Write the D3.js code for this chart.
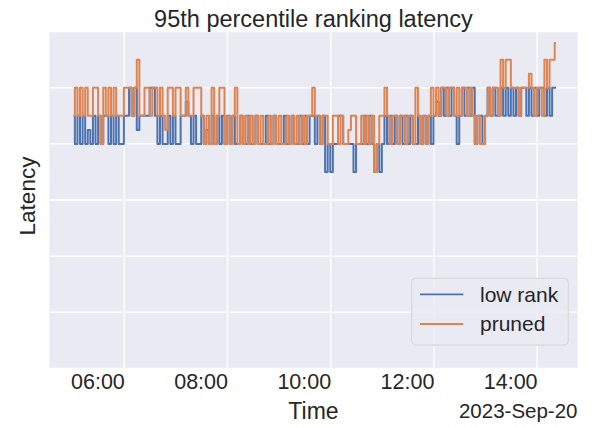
<!DOCTYPE html>
<html>
<head>
<meta charset="utf-8">
<script src="https://cdn.jsdelivr.net/npm/d3@7"></script>
<style>
  body { margin: 0; background: #ffffff; }
  svg text { font-family: "Liberation Sans", Arial, sans-serif; fill: #262626; }
</style>
</head>
<body>
<div id="chart"></div>
<script>
// sampling: one point every 3 minutes starting 05:01 on 2023-09-20
const startTime = new Date(2023, 8, 20, 5, 1);
const stepMinutes = 3;

const lowRank = [
  4.5, 4, 4.5, 4, 4.5, 4, 4.25, 4, 4.5, 4,
  4.5, 4, 4.5, 4.5, 4, 4.5, 4, 4.5, 4, 4,
  4.5, 4.5, 5, 4.5, 5, 4.25, 4.5, 4.5, 4.5, 4.5,
  5, 5, 4.5, 4, 4.5, 4, 4, 4.5, 4, 4.5,
  4, 4, 4.5, 4.5, 4.75, 4.5, 4, 4.5, 4, 4,
  4.5, 4, 4.25, 4, 4.5, 4, 4.5, 4, 4.5, 4,
  4.5, 4, 4.5, 4, 4, 4.5, 4, 4, 4.5, 4,
  4, 4.5, 4, 4, 4, 4.5, 4, 4, 4.5, 4,
  4, 4, 4.5, 4, 4, 4.5, 4, 4, 4.5, 4,
  4.5, 4, 4.5, 4.5, 4, 4.5, 4, 4.5, 3.5, 4,
  3.5, 4, 4, 4.5, 4.5, 4, 4, 4, 4, 3.5,
  4, 4, 4, 4.5, 4, 4.5, 4, 3.5, 4, 3.5,
  4, 4.5, 4, 4.5, 4, 4.5, 4, 4.5, 4, 4.5,
  4, 4.5, 4, 4, 4.5, 4, 4.5, 4, 4.5, 4,
  4.5, 4.75, 4.5, 5, 4.5, 5, 4.5, 5, 4.5, 4,
  4.5, 5, 4.5, 5, 4.5, 5, 4, 4.5, 4.5, 4,
  4.5, 5, 4.5, 5, 4.5, 4.5, 5, 4.5, 5, 4.5,
  5, 4.5, 5, 4.5, 5, 5, 4.5, 5, 4.5, 5,
  4.5, 5, 5, 4.5, 5, 4.5, 5, 5
];

const pruned = [
  4.5, 5, 4.5, 5, 4.5, 5, 4.5, 4.5, 5, 5,
  4.5, 4, 5, 4.5, 5, 4.5, 5, 4.5, 4.5, 4.5,
  5, 5, 5, 4.5, 5, 5.5, 4.5, 4.5, 5, 5,
  4.5, 5, 5, 4.5, 5, 4.5, 4.25, 5, 5, 4.5,
  5, 5, 4.5, 4.5, 5, 4.5, 4.5, 5, 5, 5,
  4.5, 4, 4.5, 4, 5, 4, 4.5, 5, 5, 4,
  4.5, 4, 4.5, 5, 4, 4.5, 4, 4.5, 4, 4.5,
  4, 4.5, 4, 4.5, 4, 4, 4.5, 4, 4.5, 4,
  4.5, 4, 4, 4.5, 4, 4.5, 4, 4.5, 4, 4.5,
  4, 4.5, 4.5, 5, 4.5, 4.5, 4, 4.5, 4.5, 4,
  4, 4.5, 4.5, 4, 4.5, 4, 4, 4.25, 4.5, 4.5,
  4, 4, 4.5, 4, 4.5, 4, 4.5, 3.5, 4, 4.5,
  4.5, 5, 4.5, 4, 4.5, 4.5, 4, 4.5, 4.5, 4,
  4.5, 4.5, 4, 5, 4.5, 4, 4.5, 4, 4.5, 5,
  4.5, 5, 4.5, 5, 5, 4.5, 5, 5, 4.5, 5,
  4.5, 5, 5, 4.5, 5, 4.5, 4, 4.5, 4, 4,
  4.5, 5, 4.5, 5, 5, 4.5, 5.5, 5, 5.5, 5.5,
  5, 5, 5, 4.5, 5, 5, 5, 5.25, 5, 4.5,
  5, 5, 4.5, 5.5, 5, 5.5, 5.5, 5.8
];

const seriesNames = ['low rank', 'pruned'];
const seriesColors = ['#4C72B0', '#DD8452'];
const xTickHours = [6, 8, 10, 12, 14];
const yTicks = [0, 1, 2, 3, 4, 5, 6];

const width = 592, height = 428;
const margin = { top: 31.7, right: 14.5, bottom: 59.7, left: 49.5 };
const plotW = width - margin.left - margin.right;
const plotH = height - margin.top - margin.bottom;

const svg = d3.select('#chart')
  .append('svg')
  .attr('width', width)
  .attr('height', height);

const g = svg.append('g')
  .attr('transform', 'translate(' + margin.left + ',' + margin.top + ')');

const times = lowRank.map((d, i) => d3.timeMinute.offset(startTime, i * stepMinutes));

const xScale = d3.scaleTime()
  .domain([new Date(2023, 8, 20, 4, 33), new Date(2023, 8, 20, 14, 47)])
  .range([0, plotW]);

const yScale = d3.scaleLinear()
  .domain([0, 6])
  .range([plotH, 0]);

// background
g.append('rect')
  .attr('width', plotW)
  .attr('height', plotH)
  .attr('fill', '#EAEAF2');

// grid
const xTicks = xTickHours.map(h => new Date(2023, 8, 20, h, 0));
g.append('g')
  .selectAll('line')
  .data(xTicks)
  .enter()
  .append('line')
  .attr('x1', d => xScale(d))
  .attr('x2', d => xScale(d))
  .attr('y1', 0)
  .attr('y2', plotH)
  .attr('stroke', '#ffffff')
  .attr('stroke-width', 1.3);

g.append('g')
  .selectAll('line')
  .data(yTicks)
  .enter()
  .append('line')
  .attr('x1', 0)
  .attr('x2', plotW)
  .attr('y1', d => yScale(d))
  .attr('y2', d => yScale(d))
  .attr('stroke', '#ffffff')
  .attr('stroke-width', 1.3);

// x tick labels (right aligned at tick, like the original)
const xAxis = d3.axisBottom(xScale)
  .tickValues(xTicks)
  .tickFormat(d3.timeFormat('%H:%M'))
  .tickSize(0)
  .tickPadding(0);

const xAxisG = g.append('g')
  .attr('transform', 'translate(0,' + plotH + ')')
  .call(xAxis);
xAxisG.select('.domain').remove();
xAxisG.selectAll('text')
  .attr('y', 21)
  .attr('dy', 0)
  .attr('text-anchor', 'end')
  .style('font-size', '21.5px')
  .style('font-family', '"Liberation Sans", Arial, sans-serif')
  .attr('fill', '#262626');

// lines
const line = d3.line()
  .x((d, i) => xScale(times[i]))
  .y(d => yScale(d))
  .curve(d3.curveStep);

[lowRank, pruned].forEach((values, k) => {
  g.append('path')
    .datum(values)
    .attr('fill', 'none')
    .attr('stroke', seriesColors[k])
    .attr('stroke-width', 2)
    .attr('stroke-linejoin', 'round')
    .attr('d', line);
});

// title and axis labels
svg.append('text')
  .attr('x', margin.left + plotW / 2)
  .attr('y', 27)
  .attr('text-anchor', 'middle')
  .style('font-size', '23.5px')
  .text('95th percentile ranking latency');

svg.append('text')
  .attr('x', margin.left + plotW / 2)
  .attr('y', 419)
  .attr('text-anchor', 'middle')
  .style('font-size', '23px')
  .text('Time');

svg.append('text')
  .attr('x', margin.left + plotW)
  .attr('y', 418)
  .attr('text-anchor', 'end')
  .style('font-size', '20.5px')
  .text('2023-Sep-20');

svg.append('text')
  .attr('transform', 'translate(35,' + (margin.top + plotH / 2 - 4) + ') rotate(-90)')
  .attr('text-anchor', 'middle')
  .style('font-size', '22.5px')
  .text('Latency');

// legend
const legend = svg.append('g')
  .attr('transform', 'translate(411.7,278.3)');

legend.append('rect')
  .attr('width', 156.6)
  .attr('height', 66.7)
  .attr('rx', 4)
  .attr('fill', '#EAEAF2')
  .attr('fill-opacity', 0.8)
  .attr('stroke', '#d6d6d6')
  .attr('stroke-width', 1);

seriesNames.forEach((name, k) => {
  const yy = 16 + k * 29.7;
  legend.append('line')
    .attr('x1', 8.3)
    .attr('x2', 51.6)
    .attr('y1', yy)
    .attr('y2', yy)
    .attr('stroke', seriesColors[k])
    .attr('stroke-width', 1.8);
  legend.append('text')
    .attr('x', 68.3)
    .attr('y', yy + 7.5)
    .style('font-size', '21px')
    .text(name);
});
</script>
</body>
</html>
